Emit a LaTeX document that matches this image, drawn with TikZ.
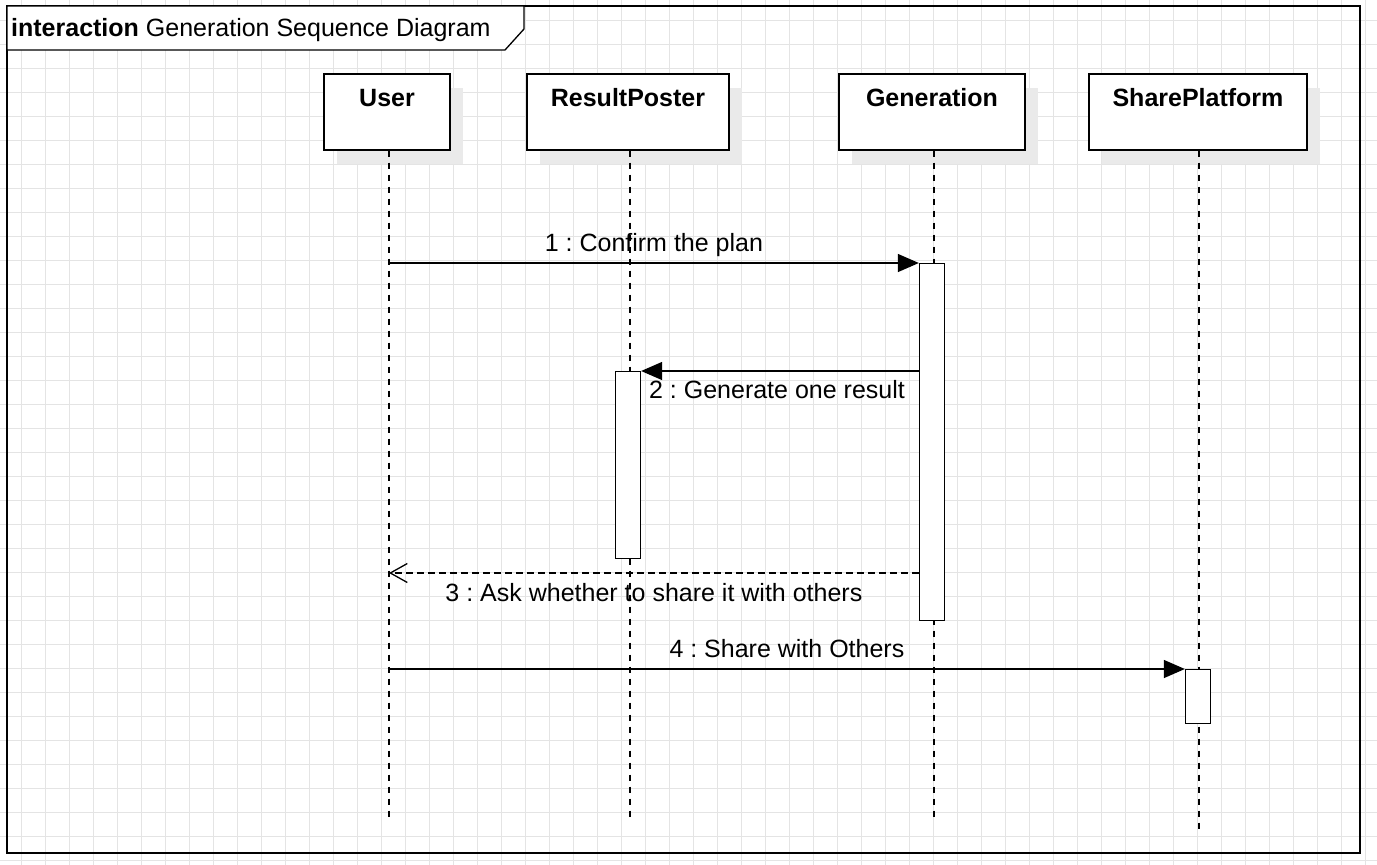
\documentclass[tikz,border=0pt]{standalone}
\usepackage{fontspec}
\setmainfont{Liberation Sans}
\usetikzlibrary{arrows.meta, shadows}
\definecolor{gridgray}{RGB}{228,228,228}
\definecolor{shadowgray}{RGB}{234,234,234}
\frenchspacing

\begin{document}
\begin{tikzpicture}[
		x=1pt, y=-1pt,
		font=\fontsize{25}{30}\selectfont,
		gridline/.style={draw=gridgray, line width=1pt},
		lifebox/.style={draw, fill=white, line width=1.3pt, minimum height=76pt,
			drop shadow={shadow xshift=13pt, shadow yshift=-14pt, fill=shadowgray, opacity=1}},
		boxtitle/.style={font=\fontsize{25}{30}\selectfont\bfseries, anchor=base, yshift=-33pt, inner sep=0pt},
		activation/.style={draw, fill=white, line width=1.3pt, minimum width=25pt, anchor=north, inner sep=0pt},
		lifeline/.style={line width=1.5pt, dash pattern=on 6pt off 6pt},
		call/.style={-{Triangle[length=21pt, width=18pt]}, line width=1.3pt},
		reply/.style={-{Straight Barb[length=17pt, width=19pt]}, line width=1.3pt, dash pattern=on 7pt off 4pt},
		msgtext/.style={anchor=base, inner sep=0pt}
	]
		\useasboundingbox (0,0) rectangle (1377,865);
		\foreach \gx in {21.5,45.5,...,1365.5}
			\draw[gridline] (\gx,0) -- (\gx,865);
		\foreach \gy in {20.5,44.5,...,860.5}
			\draw[gridline] (0,\gy) -- (1377,\gy);

		\draw[line width=2.2pt] (7,6) rectangle (1360,853);
		\draw[line width=1.3pt, fill=white] (7,6) -- (7,50) -- (505,50) -- (524,29) -- (524,6) -- cycle;
		\node[anchor=base west, inner sep=0pt] (frametitle) at (11,36) {\textbf{interaction} Generation Sequence Diagram};

		\node[lifebox, minimum width=126pt, label={[boxtitle]north:User}] (user) at (387,112) {};
		\node[lifebox, minimum width=202pt, label={[boxtitle]north:ResultPoster}] (poster) at (628,112) {};
		\node[lifebox, minimum width=186pt, label={[boxtitle]north:Generation}] (gen) at (932,112) {};
		\node[lifebox, minimum width=218pt, label={[boxtitle]north:SharePlatform}] (share) at (1198,112) {};

		\coordinate (lifeend) at (0,822);
		\coordinate (shareend) at (0,833);
		\foreach \n in {user,poster,gen}
			\draw[lifeline] ([xshift=2pt]\n.south) -- ([xshift=2pt]\n.south |- lifeend);
		\draw[lifeline] ([xshift=1pt]share.south) -- ([xshift=1pt]share.south |- shareend);

		\node[activation, minimum height=357pt] (genact) at (932,263) {};
		\node[activation, minimum height=187pt] (posteract) at (628,371) {};
		\node[activation, minimum height=54pt] (shareact) at (1198,669) {};

		\draw[call] ([xshift=2pt]user.south |- genact.north) -- (genact.north west)
			node[msgtext, midway, yshift=12pt] {1 : Confirm the plan};
		\draw[call] (genact.west |- posteract.north) -- (posteract.north east)
			node[msgtext, midway, yshift=-27pt, xshift=-3pt] {2 : Generate one result};
		\coordinate (asky) at (0,573);
		\draw[reply] (genact.west |- asky) -- ([xshift=2pt]user.south |- asky)
			node[msgtext, midway, yshift=-28pt] {3 : Ask whether to share it with others};
		\draw[call] ([xshift=2pt]user.south |- shareact.north) -- (shareact.north west)
			node[msgtext, midway, yshift=12pt] {4 : Share with Others};
	\end{tikzpicture}
\end{document}
